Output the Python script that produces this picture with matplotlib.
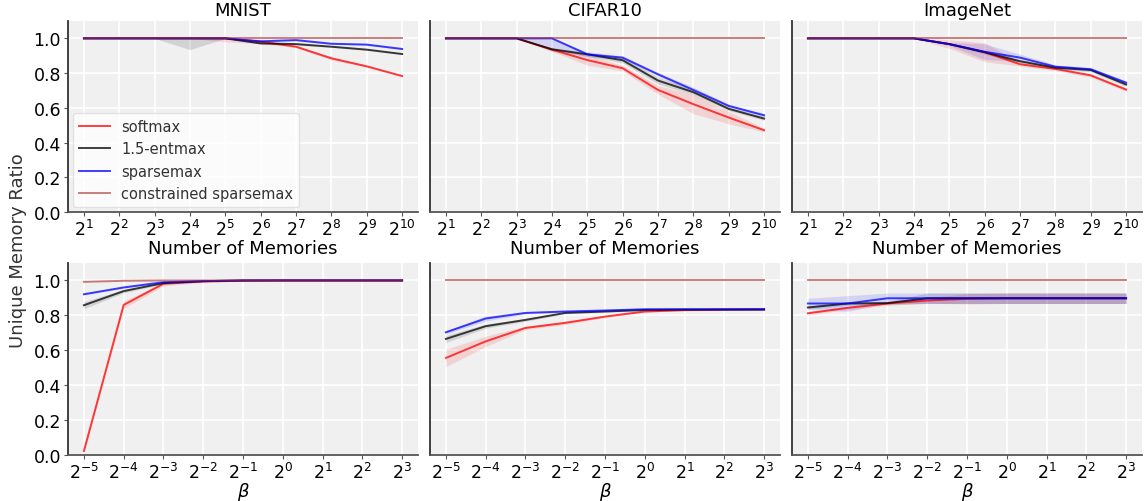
import numpy as np
import matplotlib
matplotlib.use("Agg")
import matplotlib.pyplot as plt

# ---------------- data ----------------
methods = ["softmax", "1.5-entmax", "sparsemax", "constrained sparsemax"]
datasets = ["MNIST", "CIFAR10", "ImageNet"]

mem_exp = [1, 2, 3, 4, 5, 6, 7, 8, 9, 10]          # number of memories = 2^k
beta_exp = [-5, -4, -3, -2, -1, 0, 1, 2, 3]         # beta = 2^k

# --- top row: number of memories ---
mnist_mem_softmax = [1.0, 1.0, 1.0, 1.0, 1.0, 0.981, 0.952, 0.885, 0.839, 0.783]
mnist_mem_entmax = [1.0, 1.0, 1.0, 1.0, 1.0, 0.971, 0.967, 0.952, 0.935, 0.910]
mnist_mem_sparsemax = [1.0, 1.0, 1.0, 1.0, 1.0, 0.983, 0.990, 0.969, 0.964, 0.939]
mnist_mem_constrained = [1.0] * 10
mnist_mem_softmax_err = [0, 0, 0, 0, 0.02, 0.012, 0.006, 0.01, 0.005, 0.004]
mnist_mem_entmax_err = [0, 0, 0, 0.065, 0, 0.005, 0.005, 0.004, 0.004, 0.004]
mnist_mem_sparsemax_err = [0, 0, 0, 0, 0, 0.004, 0.004, 0.004, 0.004, 0.004]

cifar_mem_softmax = [1.0, 1.0, 1.0, 0.935, 0.875, 0.828, 0.703, 0.621, 0.544, 0.471]
cifar_mem_entmax = [1.0, 1.0, 1.0, 0.937, 0.908, 0.874, 0.757, 0.690, 0.594, 0.538]
cifar_mem_sparsemax = [1.0, 1.0, 1.0, 1.0, 0.908, 0.889, 0.793, 0.703, 0.611, 0.557]
cifar_mem_constrained = [1.0] * 10
cifar_mem_softmax_err = [0, 0, 0, 0.01, 0.03, 0.015, 0.025, 0.055, 0.036, 0.01]
cifar_mem_entmax_err = [0, 0, 0, 0.01, 0.01, 0.015, 0.02, 0.015, 0.01, 0.01]
cifar_mem_sparsemax_err = [0, 0, 0, 0.063, 0.015, 0.01, 0.01, 0.015, 0.01, 0.01]

imnet_mem_softmax = [1.0, 1.0, 1.0, 1.0, 0.967, 0.920, 0.851, 0.824, 0.787, 0.705]
imnet_mem_entmax = [1.0, 1.0, 1.0, 1.0, 0.967, 0.920, 0.868, 0.831, 0.818, 0.734]
imnet_mem_sparsemax = [1.0, 1.0, 1.0, 1.0, 0.967, 0.923, 0.889, 0.837, 0.822, 0.745]
imnet_mem_constrained = [1.0] * 10
imnet_mem_softmax_err = [0, 0, 0, 0, 0.025, 0.055, 0.01, 0.01, 0.01, 0.01]
imnet_mem_entmax_err = [0, 0, 0, 0, 0.005, 0.01, 0.01, 0.01, 0.01, 0.01]
imnet_mem_sparsemax_err = [0, 0, 0, 0, 0.01, 0.045, 0.02, 0.01, 0.01, 0.01]

# --- bottom row: beta ---
mnist_beta_softmax = [0.023, 0.860, 0.981, 0.994, 0.998, 1.0, 1.0, 1.0, 1.0]
mnist_beta_entmax = [0.858, 0.939, 0.985, 0.996, 1.0, 1.0, 1.0, 1.0, 1.0]
mnist_beta_sparsemax = [0.921, 0.960, 0.990, 0.996, 1.0, 1.0, 1.0, 1.0, 1.0]
mnist_beta_constrained = [0.992, 0.998, 1.0, 1.0, 1.0, 1.0, 1.0, 1.0, 1.0]
mnist_beta_softmax_err = [0.01, 0.02, 0.012, 0.005, 0, 0, 0, 0, 0]
mnist_beta_entmax_err = [0.02, 0.01, 0.005, 0.002, 0, 0, 0, 0, 0]
mnist_beta_sparsemax_err = [0.005, 0.005, 0.004, 0.002, 0, 0, 0, 0, 0]

cifar_beta_softmax = [0.556, 0.651, 0.728, 0.757, 0.793, 0.822, 0.830, 0.833, 0.835]
cifar_beta_entmax = [0.665, 0.738, 0.774, 0.814, 0.822, 0.831, 0.833, 0.833, 0.833]
cifar_beta_sparsemax = [0.703, 0.782, 0.814, 0.822, 0.828, 0.835, 0.835, 0.835, 0.835]
cifar_beta_constrained = [1.0] * 9
cifar_beta_softmax_err = [0.05, 0.03, 0.01, 0.01, 0.005, 0.005, 0.004, 0.003, 0.003]
cifar_beta_entmax_err = [0.02, 0.012, 0.008, 0.005, 0.004, 0.003, 0.003, 0.003, 0.003]
cifar_beta_sparsemax_err = [0.01, 0.015, 0.006, 0.005, 0.005, 0.003, 0.003, 0.003, 0.003]

imnet_beta_softmax = [0.812, 0.843, 0.868, 0.885, 0.895, 0.898, 0.898, 0.898, 0.898]
imnet_beta_entmax = [0.845, 0.868, 0.870, 0.898, 0.898, 0.898, 0.898, 0.898, 0.898]
imnet_beta_sparsemax = [0.868, 0.868, 0.898, 0.898, 0.898, 0.898, 0.898, 0.898, 0.898]
imnet_beta_constrained = [1.0] * 9
imnet_beta_softmax_err = [0.01, 0.01, 0.01, 0.015, 0.03, 0.03, 0.03, 0.03, 0.03]
imnet_beta_entmax_err = [0.01, 0.01, 0.01, 0.03, 0.03, 0.03, 0.03, 0.03, 0.03]
imnet_beta_sparsemax_err = [0.03, 0.045, 0.03, 0.03, 0.03, 0.03, 0.03, 0.03, 0.03]

top_panels = [
    (mnist_mem_softmax, mnist_mem_entmax, mnist_mem_sparsemax, mnist_mem_constrained,
     mnist_mem_softmax_err, mnist_mem_entmax_err, mnist_mem_sparsemax_err),
    (cifar_mem_softmax, cifar_mem_entmax, cifar_mem_sparsemax, cifar_mem_constrained,
     cifar_mem_softmax_err, cifar_mem_entmax_err, cifar_mem_sparsemax_err),
    (imnet_mem_softmax, imnet_mem_entmax, imnet_mem_sparsemax, imnet_mem_constrained,
     imnet_mem_softmax_err, imnet_mem_entmax_err, imnet_mem_sparsemax_err),
]
bottom_panels = [
    (mnist_beta_softmax, mnist_beta_entmax, mnist_beta_sparsemax, mnist_beta_constrained,
     mnist_beta_softmax_err, mnist_beta_entmax_err, mnist_beta_sparsemax_err),
    (cifar_beta_softmax, cifar_beta_entmax, cifar_beta_sparsemax, cifar_beta_constrained,
     cifar_beta_softmax_err, cifar_beta_entmax_err, cifar_beta_sparsemax_err),
    (imnet_beta_softmax, imnet_beta_entmax, imnet_beta_sparsemax, imnet_beta_constrained,
     imnet_beta_softmax_err, imnet_beta_entmax_err, imnet_beta_sparsemax_err),
]

colors = ["red", "black", "blue", "brown"]
line_alpha = [0.75, 0.75, 0.75, 0.6]
yticks = [0.0, 0.2, 0.4, 0.6, 0.8, 1.0]

# ---------------- figure ----------------
plt.rcParams["font.family"] = ["DejaVu Sans"]
fig = plt.figure(figsize=(11.46, 5.02), dpi=100)

col_x = [68 / 1146, 430 / 1146, 792 / 1146]
col_w = 350 / 1146
row_y = [(502 - 213) / 502, (502 - 456) / 502]
row_h = [191 / 502, 192 / 502]


def style_axis(ax, show_y):
    ax.set_facecolor("#f0f0f0")
    ax.grid(True, color="white", linewidth=1.2)
    ax.set_axisbelow(True)
    for s in ["top", "right"]:
        ax.spines[s].set_visible(False)
    ax.spines["left"].set_color("#333333")
    ax.spines["bottom"].set_color("#555555")
    ax.spines["left"].set_linewidth(1.3)
    ax.spines["bottom"].set_linewidth(1.3)
    ax.set_ylim(0, 1.1)
    ax.set_yticks(yticks)
    ax.tick_params(axis="both", labelsize=12.5, length=3, pad=2, color="#555555")
    if show_y:
        ax.set_yticklabels([f"{v:.1f}" for v in yticks])
    else:
        ax.set_yticklabels([])
        ax.tick_params(axis="y", length=0)


def draw(ax, xs, panel):
    sm, em, sp, cs, sm_e, em_e, sp_e = panel
    means = [sm, em, sp, cs]
    errs = [sm_e, em_e, sp_e, [0] * len(xs)]
    for name, c, a, m, e in zip(methods, colors, line_alpha, means, errs):
        m = np.array(m, dtype=float)
        e = np.array(e, dtype=float)
        lo = m - e
        hi = np.minimum(m + e, 1.0)
        if e.any():
            ax.fill_between(xs, lo, hi, color=c, alpha=0.12, linewidth=0)
        ax.plot(xs, m, color=c, alpha=a, linewidth=1.4, label=name)


mem_x = [2.0 ** k for k in mem_exp]
beta_x = [2.0 ** k for k in beta_exp]

axes_top = []
for i in range(3):
    ax = fig.add_axes([col_x[i], row_y[0], col_w, row_h[0]])
    draw(ax, mem_x, top_panels[i])
    ax.set_xscale("log", base=2)
    ax.set_xticks(mem_x)
    ax.set_xticklabels([f"$2^{{{k}}}$" for k in mem_exp])
    ax.minorticks_off()
    style_axis(ax, i == 0)
    ax.set_title(datasets[i], fontsize=13, pad=4)
    ax.set_xlabel("Number of Memories", fontsize=13, labelpad=0)
    axes_top.append(ax)

for i in range(3):
    ax = fig.add_axes([col_x[i], row_y[1], col_w, row_h[1]])
    draw(ax, beta_x, bottom_panels[i])
    ax.set_xscale("log", base=2)
    ax.set_xticks(beta_x)
    ax.set_xticklabels([f"$2^{{{k}}}$" for k in beta_exp])
    ax.minorticks_off()
    style_axis(ax, i == 0)
    ax.set_xlabel(r"$\beta$", fontsize=13, labelpad=-1.5)

leg = axes_top[0].legend(loc="lower left", bbox_to_anchor=(0.0, 0.0), fontsize=10.5,
                         frameon=True, fancybox=True, framealpha=0.8,
                         borderaxespad=0.35, handlelength=2.1, labelspacing=0.5)
leg.get_frame().set_facecolor("white")
leg.get_frame().set_edgecolor("#dddddd")
for t in leg.get_texts():
    t.set_color("#333333")

fig.text(18 / 1146, 0.5, "Unique Memory Ratio", rotation=90, ha="center", va="center",
         fontsize=13, color="#333333")

fig.savefig("out.png", dpi=100)
